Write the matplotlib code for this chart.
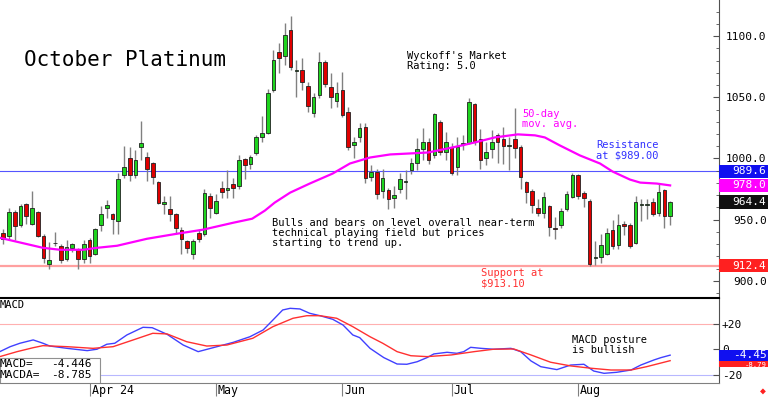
import numpy as np
import matplotlib
matplotlib.use('Agg')
import matplotlib.pyplot as plt
from matplotlib.patches import Rectangle
from matplotlib.ticker import MultipleLocator

plt.rcParams['font.family'] = ['DejaVu Sans Mono', 'DejaVu Sans']

# daily OHLC, October platinum
opens = [939.3, 936.9, 956.6, 945.9, 963.1, 946.7, 956.6, 936.9, 913.9, 930.7,
         928.7, 918.0, 927.0, 926.2, 918.0, 933.6, 922.1, 945.9, 959.8, 954.9,
         949.2, 986.1, 1000.8, 986.1, 1009.0, 1001.6, 996.7, 981.1, 963.1, 959.0,
         954.9, 941.8, 932.8, 922.1, 939.3, 938.5, 969.7, 955.7, 976.2, 974.6,
         979.5, 977.9, 999.2, 995.9, 1004.1, 1017.2, 1020.5, 1055.7, 1086.9, 1083.6,
         1104.9, 1071.7, 1072.1, 1059.0, 1036.9, 1051.6, 1078.7, 1058.2, 1046.7, 1055.7,
         1037.7, 1010.7, 1017.2, 1025.4, 985.2, 989.3, 973.8, 974.6, 968.0, 975.4,
         981.1, 990.2, 996.7, 1007.4, 1013.1, 1002.5, 1029.5, 1004.9, 1009.0, 993.4,
         1011.9, 1012.3, 1044.3, 1015.6, 1000.0, 1007.4, 1018.9, 1015.6, 1010.2, 1015.6,
         1009.0, 981.1, 973.8, 959.8, 955.7, 961.5, 943.4, 945.9, 959.0, 968.9,
         986.9, 972.1, 965.6, 918.9, 919.7, 922.1, 941.8, 929.5, 946.7, 945.9,
         931.1, 962.3, 962.3, 964.8, 955.7, 974.6, 953.3]
highs = [942.6, 959.8, 958.2, 963.1, 963.9, 973.8, 957.4, 938.5, 932.0, 940.2,
         930.3, 933.6, 931.1, 927.0, 933.6, 935.2, 943.4, 961.5, 966.4, 955.7,
         988.5, 1009.8, 1009.0, 1006.6, 1030.3, 1004.9, 997.5, 982.0, 969.7, 969.7,
         955.7, 944.3, 933.6, 934.4, 941.8, 975.4, 972.1, 971.3, 982.0, 990.2,
         984.4, 1002.5, 1000.8, 1002.5, 1018.9, 1034.4, 1056.6, 1088.5, 1094.3, 1110.7,
         1116.4, 1080.3, 1082.0, 1062.3, 1053.3, 1086.9, 1080.3, 1069.7, 1062.3, 1070.5,
         1041.8, 1017.2, 1028.7, 1028.7, 994.3, 991.0, 991.0, 976.2, 977.9, 988.5,
         990.2, 1000.0, 1016.4, 1024.6, 1016.4, 1036.9, 1031.1, 1021.3, 1012.3, 1017.2,
         1018.9, 1049.2, 1045.1, 1023.8, 1013.1, 1023.0, 1020.5, 1025.4, 1017.2, 1041.0,
         1010.7, 982.0, 975.4, 967.2, 972.9, 962.3, 952.5, 959.8, 973.8, 988.5,
         987.7, 973.8, 967.2, 932.8, 938.5, 943.4, 950.0, 954.9, 949.2, 947.5,
         969.7, 967.2, 967.2, 968.0, 980.3, 975.4, 965.6]
lows = [930.3, 934.4, 933.6, 944.3, 946.7, 945.9, 936.1, 914.8, 909.8, 928.7,
        914.8, 916.4, 923.8, 909.8, 914.8, 914.8, 921.3, 941.0, 951.6, 938.5,
        938.5, 984.4, 982.0, 984.4, 998.4, 982.0, 979.5, 963.1, 954.9, 949.2,
        938.5, 922.1, 922.9, 918.0, 932.0, 936.9, 951.6, 954.9, 968.0, 968.0,
        968.0, 975.4, 983.6, 991.8, 1002.5, 1013.1, 1019.7, 1054.1, 1069.7, 1076.2,
        1072.1, 1050.0, 1055.7, 1037.7, 1033.6, 1049.2, 1058.2, 1041.0, 1041.8, 1033.6,
        1006.6, 1000.8, 1013.1, 980.3, 982.0, 967.2, 968.0, 959.0, 959.8, 972.1,
        967.2, 987.7, 990.2, 998.4, 995.9, 1000.8, 1002.5, 998.4, 986.1, 986.1,
        1006.6, 1011.5, 1010.7, 991.8, 994.3, 1000.8, 996.7, 995.9, 990.2, 1000.0,
        975.4, 963.9, 955.7, 953.3, 951.6, 936.9, 934.4, 943.4, 957.4, 968.0,
        967.2, 960.7, 912.3, 913.1, 914.8, 921.3, 926.2, 926.2, 937.7, 927.0,
        930.3, 949.2, 950.8, 953.3, 953.3, 943.4, 945.9]
closes = [934.4, 956.6, 945.1, 961.5, 953.3, 959.8, 936.9, 918.9, 917.2, 931.1,
          917.2, 927.9, 930.3, 918.0, 930.3, 920.5, 942.6, 954.9, 962.3, 950.8,
          983.6, 993.4, 986.1, 998.4, 1012.3, 991.8, 985.2, 963.9, 964.8, 954.9,
          943.4, 934.4, 927.0, 932.8, 934.4, 972.1, 959.8, 965.6, 973.0, 976.2,
          976.2, 998.4, 994.3, 1001.6, 1017.2, 1020.5, 1053.3, 1080.3, 1082.0, 1100.8,
          1074.6, 1072.1, 1062.3, 1042.6, 1050.0, 1078.7, 1060.7, 1050.0, 1053.3, 1035.2,
          1009.0, 1013.1, 1024.6, 984.4, 989.3, 971.3, 984.4, 967.2, 970.5, 983.6,
          982.0, 996.7, 1007.4, 1013.1, 998.4, 1036.1, 1005.7, 1013.1, 988.5, 1009.0,
          1012.3, 1045.9, 1013.1, 998.4, 1005.7, 1013.1, 1013.1, 1009.8, 1010.7, 1008.2,
          985.2, 973.0, 962.3, 955.7, 968.9, 944.3, 942.6, 957.4, 971.3, 986.1,
          969.7, 968.0, 913.9, 919.7, 929.5, 939.3, 928.7, 945.9, 945.1, 928.7,
          964.8, 963.1, 963.1, 954.9, 973.0, 953.3, 964.4]

# 50-day moving average (bar position, value)
ma_pos = [0.4, 7.9, 10.9, 14.9, 17.3, 20.8, 26.0, 31.2, 35.7, 41.0, 44.3, 46.5,
          48.2, 50.9, 54.3, 58.3, 61.3, 64.8, 68.3, 71.7, 74.9, 78.3, 80.8, 83.0,
          86.5, 90.5, 93.5, 95.2, 97.8, 101.3, 104.8, 107.0, 110.0, 111.8, 114.7, 117.0]
ma_val = [935.2, 927.0, 925.4, 925.4, 927.0, 928.7, 934.4, 938.5, 941.8, 947.5, 950.8, 957.4,
          963.9, 972.1, 979.5, 987.7, 995.9, 1000.8, 1003.3, 1004.1, 1004.9, 1008.2, 1010.7, 1013.1,
          1017.2, 1019.7, 1018.9, 1017.2, 1010.7, 1002.5, 995.9, 989.3, 982.8, 980.3, 979.5, 978.0]

# MACD and its signal line (MACDA)
macd_pos = [0.4, 2.2, 3.9, 6.2, 7.9, 9.1, 12.1, 15.6, 17.3, 19.0, 20.4, 22.5, 25.3, 26.9,
            29.5, 32.3, 34.9, 37.5, 41.0, 43.9, 46.2, 47.9, 49.6, 50.9, 52.6, 54.3, 56.1,
            58.3, 60.1, 61.8, 63.0, 64.8, 66.5, 67.2, 69.5, 71.2, 73.0, 74.7, 75.9, 78.2,
            79.9, 81.1, 82.3, 84.1, 86.3, 89.3, 91.0, 92.8, 94.5, 97.3, 99.7, 102.0, 103.7,
            105.5, 107.7, 110.2, 111.9, 114.2, 115.4, 117.0]
macd_val = [-1.7, 2.2, 4.9, 7.5, 4.9, 2.7, 0.9, -0.9, 0.2, 4.1, 4.9, 11.4, 17.4, 17.1,
            11.9, 3.5, -1.7, 1.4, 5.6, 10.0, 15.3, 23.1, 31.0, 32.3, 31.8, 28.4, 26.5,
            23.7, 19.2, 11.4, 9.3, 0.9, -4.3, -6.4, -11.4, -11.6, -9.6, -6.4, -3.5, -2.2,
            -3.0, -1.7, 1.7, 0.9, 0.2, 0.9, -1.7, -9.0, -13.5, -15.8, -12.2, -11.6, -16.9,
            -18.7, -17.9, -16.1, -12.2, -8.2, -6.4, -4.446]
sig_pos = [0.4, 3.4, 6.2, 7.9, 12.1, 16.6, 20.1, 23.6, 27.0, 29.5, 32.9, 36.4, 39.9,
           44.4, 47.9, 51.4, 53.8, 56.1, 59.0, 61.8, 64.8, 67.0, 69.5, 71.9, 74.7, 78.9,
           82.9, 86.3, 89.8, 92.8, 96.2, 99.7, 103.2, 106.7, 110.2, 112.9, 117.0]
sig_val = [-5.6, -1.7, 1.4, 3.0, 2.2, 0.9, 2.2, 7.5, 12.7, 12.2, 6.1, 2.7, 3.5,
           8.8, 17.9, 24.5, 26.5, 26.5, 24.5, 17.9, 10.0, 4.9, -1.7, -4.9, -5.6, -4.3,
           -1.7, 0.2, 0.4, -4.3, -10.0, -12.9, -14.7, -16.1, -16.1, -13.5, -8.785]

tick_pos = [16, 38, 60, 79, 101]
tick_labels = ['Apr 24', 'May', 'Jun', 'Jul', 'Aug']

resistance = 989.6
support = 912.4
last_ma = 978.0
last_close = 964.4

fig = plt.figure(figsize=(7.68, 3.98), dpi=100)
ax1 = fig.add_axes([0, 100 / 398, 719 / 768, 298 / 398])
ax2 = fig.add_axes([0, 15 / 398, 719 / 768, 85 / 398], sharex=ax1)

RX = 766.5 / 719  # right edge of the value labels, in axes units

# --- price panel ---
x = np.arange(1, len(opens) + 1)
o = np.array(opens)
c = np.array(closes)
up = c >= o
ax1.vlines(x, lows, highs, color='#808080', lw=1, zorder=2)
body = np.maximum(np.abs(c - o), 0.5)
ax1.bar(x[up], body[up], bottom=o[up], width=0.62, color='#1ed41e',
        edgecolor='#202020', linewidth=0.6, zorder=3)
ax1.bar(x[~up], body[~up], bottom=c[~up], width=0.62, color='#e00000',
        edgecolor='#202020', linewidth=0.6, zorder=3)
ax1.plot(ma_pos, ma_val, color='#ff00ff', lw=1.6, zorder=4)

ax1.axhline(resistance, color='#5555ff', lw=0.8, zorder=1)
ax1.axhline(support, color='#ffa0a0', lw=1.6, zorder=1)

ax1.set_xlim(0.43, 125.5)
ax1.set_ylim(886, 1129.5)
for s in ['top', 'left', 'bottom']:
    ax1.spines[s].set_visible(False)
ax1.spines['right'].set_color('#505050')
ax1.yaxis.set_ticks_position('right')
ax1.set_yticks([900, 950, 1000, 1050, 1100])
ax1.set_yticklabels(['900.0', '950.0', '1000.0', '1050.0', '1100.0'])
ax1.yaxis.set_minor_locator(MultipleLocator(10))
ax1.tick_params(axis='y', which='major', direction='in', length=4, pad=(766.5 - 719) * 0.72,
                labelsize=8, color='#505050')
ax1.tick_params(axis='y', which='minor', direction='in', length=2, color='#505050')
for lbl in ax1.get_yticklabels():
    lbl.set_horizontalalignment('right')
ax1.tick_params(axis='x', bottom=False, labelbottom=False)

# value boxes on the right edge
tr1 = ax1.get_yaxis_transform()
for val, col in [(resistance, '#1010f0'), (last_ma, '#ff00ff'),
                 (last_close, '#101010'), (support, '#ff2020')]:
    ax1.add_patch(Rectangle((1.0, val - 5.4), 0.08, 10.8, transform=tr1,
                            facecolor=col, edgecolor='none', clip_on=False, zorder=5))
    ax1.text(RX, val, '%.1f' % val, transform=tr1, ha='right', va='center',
             color='white', fontsize=8, clip_on=False, zorder=6)

ax1.text(0.0334, 0.80, 'October Platinum', transform=ax1.transAxes,
         fontsize=15, va='center', ha='left')
ax1.text(0.566, 0.828, "Wyckoff's Market\nRating: 5.0", transform=ax1.transAxes,
         fontsize=7.5, va='top', linespacing=1.0)
ax1.text(0.378, 0.27, 'Bulls and bears on level overall near-term\n'
         'technical playing field but prices\nstarting to trend up.',
         transform=ax1.transAxes, fontsize=7.5, va='top', linespacing=1.0)
ax1.text(0.726, 0.634, '50-day\nmov. avg.', transform=ax1.transAxes,
         fontsize=7.5, va='top', color='#ff00ff', linespacing=1.0)
ax1.text(0.829, 0.530, 'Resistance\nat $989.00', transform=ax1.transAxes,
         fontsize=7.5, va='top', color='#3030ff', linespacing=1.0)
ax1.text(0.669, 0.100, 'Support at\n$913.10', transform=ax1.transAxes,
         fontsize=7.5, va='top', color='#ff3030', linespacing=1.0)

# --- MACD panel ---
ax2.plot(macd_pos, macd_val, color='#4040ff', lw=1.0)
ax2.plot(sig_pos, sig_val, color='#ff3030', lw=1.0)
ax2.axhline(20, color='#ffb0b0', lw=0.8, zorder=0)
ax2.axhline(-20, color='#b8b8ff', lw=0.8, zorder=0)
ax2.set_ylim(-26.3, 40.4)
ax2.spines['left'].set_visible(False)
ax2.spines['top'].set_color('black')
ax2.spines['top'].set_linewidth(1.5)
ax2.spines['bottom'].set_color('#808080')
ax2.spines['right'].set_color('#505050')
ax2.yaxis.set_ticks_position('right')
ax2.set_yticks([20, 0, -20])
ax2.set_yticklabels(['+20', '0', '-20'])
ax2.tick_params(axis='y', direction='in', length=4, pad=2, labelsize=8,
                color='#505050')

ax2.set_xticks(tick_pos)
ax2.tick_params(axis='x', direction='out', length=9.5, color='#808080',
                labelbottom=False)
trx = ax2.get_xaxis_transform()
for p, lab in zip(tick_pos, tick_labels):
    ax2.text(p + 0.35, -0.085, lab, transform=trx, ha='left', va='center',
             fontsize=8.4, clip_on=False)

# last MACD / MACDA values: red box partly hidden under the blue one
tr2 = ax2.get_yaxis_transform()
ax2.add_patch(Rectangle((1.0, sig_val[-1] - 5.2), 0.08, 9.5, transform=tr2,
                        facecolor='#ff2020', edgecolor='none', clip_on=False, zorder=5))
ax2.text(RX, sig_val[-1] - 3.0, '%.2f' % sig_val[-1], transform=tr2, ha='right',
         va='center', color='white', fontsize=5.2, clip_on=False, zorder=5.5)
ax2.add_patch(Rectangle((1.0, macd_val[-1] - 4.3), 0.08, 8.6, transform=tr2,
                        facecolor='#1010f0', edgecolor='none', clip_on=False, zorder=6))
ax2.text(RX, macd_val[-1] + 0.3, '%.2f' % macd_val[-1], transform=tr2, ha='right',
         va='center', color='white', fontsize=8, clip_on=False, zorder=7)

ax2.text(0.0, 0.92, 'MACD', transform=ax2.transAxes, fontsize=7.5, va='center')
ax2.text(0.796, 0.57, 'MACD posture\nis bullish', transform=ax2.transAxes,
         fontsize=7.5, va='top', linespacing=1.0)

ax2.add_patch(Rectangle((0, 0), 0.139, 0.294, transform=ax2.transAxes,
                        facecolor='white', edgecolor='#909090', lw=0.8, zorder=7))
ax2.text(0.0, 0.224, 'MACD=', transform=ax2.transAxes, fontsize=8, va='center', zorder=8)
ax2.text(0.128, 0.224, '%.3f' % macd_val[-1], transform=ax2.transAxes, fontsize=8,
         va='center', ha='right', zorder=8)
ax2.text(0.0, 0.094, 'MACDA=', transform=ax2.transAxes, fontsize=8, va='center', zorder=8)
ax2.text(0.128, 0.094, '%.3f' % sig_val[-1], transform=ax2.transAxes, fontsize=8,
         va='center', ha='right', zorder=8)

fig.text(763 / 768, 1 - 391 / 398, '\u25c6', color='#ff2020', fontsize=7,
         ha='center', va='center')

fig.savefig('out.png', dpi=100)
